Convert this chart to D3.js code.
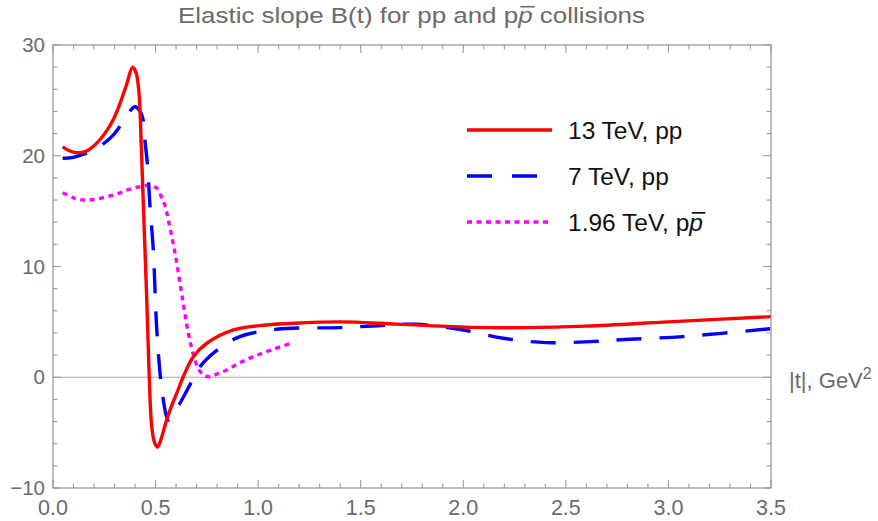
<!DOCTYPE html>
<html>
<head>
<meta charset="utf-8">
<script src="https://cdn.jsdelivr.net/npm/d3@7"></script>
<style>
  html, body { margin: 0; padding: 0; background: #fff; }
  svg { display: block; font-family: "Liberation Sans", Arial, sans-serif; }
</style>
</head>
<body>
<svg id="chart" width="878" height="521"></svg>
<script>
// ---- data ----
const t13 = [0.047, 0.08, 0.115, 0.16, 0.2, 0.26, 0.3, 0.33, 0.36, 0.388, 0.405, 0.42, 0.43, 0.44, 0.457, 0.469, 0.481, 0.495, 0.51, 0.53, 0.553, 0.58, 0.603, 0.635, 0.684, 0.75, 0.88, 1.04, 1.2, 1.4, 1.675, 2.05, 2.3, 2.6, 3.0, 3.5];
const b13 = [20.8, 20.45, 20.28, 20.4, 20.9, 22.2, 23.5, 24.9, 26.5, 28.0, 27.5, 25.5, 21.0, 15.8, 7.0, 0.05, -4.4, -5.9, -6.3, -5.4, -3.9, -2.5, -1.45, 0.05, 1.86, 3.07, 4.27, 4.72, 4.9, 5.0, 4.8, 4.5, 4.48, 4.62, 5.0, 5.47];

const t7 = [0.047, 0.1, 0.156, 0.2, 0.245, 0.29, 0.323, 0.35, 0.375, 0.40, 0.421, 0.44, 0.448, 0.46, 0.473, 0.489, 0.505, 0.525, 0.538, 0.55, 0.562, 0.59, 0.619, 0.676, 0.717, 0.806, 0.911, 1.09, 1.4, 1.56, 1.77, 1.98, 2.195, 2.405, 2.62, 2.81, 3.07, 3.5];
const b7 = [19.77, 19.86, 20.2, 20.55, 21.07, 21.8, 22.57, 23.3, 24.04, 24.43, 24.1, 23.2, 21.4, 19.3, 15.4, 11.5, 4.57, -0.24, -2.05, -3.3, -3.86, -3.3, -2.35, -0.4, 0.96, 2.53, 3.67, 4.33, 4.48, 4.63, 4.78, 4.33, 3.52, 3.13, 3.22, 3.43, 3.67, 4.39];

const t196 = [0.047, 0.1, 0.148, 0.2, 0.262, 0.32, 0.359, 0.4, 0.44, 0.473, 0.5, 0.514, 0.53, 0.546, 0.562, 0.595, 0.627, 0.66, 0.692, 0.717, 0.74, 0.765, 0.8, 0.847, 0.9, 0.976, 1.07, 1.171];
const b196 = [16.67, 16.2, 16.0, 16.05, 16.3, 16.6, 16.9, 17.1, 17.27, 17.33, 17.15, 16.9, 16.2, 15.5, 14.2, 11.2, 7.58, 3.97, 1.56, 0.51, 0.15, 0.05, 0.3, 0.66, 1.2, 1.86, 2.5, 3.13];

const seriesNames = ["13 TeV, pp", "7 TeV, pp", "1.96 TeV, p"];
const xTickLabels = [0, 0.5, 1.0, 1.5, 2.0, 2.5, 3.0, 3.5];
const yTickLabels = [-10, 0, 10, 20, 30];

// ---- layout ----
const W = 878, H = 521;
const margin = {left: 53, right: 107, top: 45, bottom: 33};
const pw = W - margin.left - margin.right;
const ph = H - margin.top - margin.bottom;

const svg = d3.select("#chart");
const x = d3.scaleLinear().domain([0, 3.5]).range([margin.left, margin.left + pw]);
const y = d3.scaleLinear().domain([-10, 30]).range([margin.top + ph, margin.top]);

const frameCol = "#9a9a9a";
const textCol = "#6b6b6b";

// clip
svg.append("defs").append("clipPath").attr("id", "clip")
  .append("rect").attr("x", margin.left).attr("y", margin.top).attr("width", pw).attr("height", ph);

// zero axis line
svg.append("line")
  .attr("x1", x(0)).attr("x2", x(3.5)).attr("y1", y(0)).attr("y2", y(0))
  .attr("stroke", "#a8a8a8").attr("stroke-width", 1.2);

// curves
const line = d3.line().x(d => x(d[0])).y(d => y(d[1])).curve(d3.curveCatmullRom.alpha(0.5));
const series = [
  {t: t13, b: b13, color: "#ff0000", dash: null},
  {t: t7, b: b7, color: "#0000ff", dash: "25,18"},
  {t: t196, b: b196, color: "#ff00ff", dash: "5,4.5"}
];
const g = svg.append("g").attr("clip-path", "url(#clip)");
series.slice().reverse().forEach(s => {
  g.append("path")
    .datum(s.t.map((tv, i) => [tv, s.b[i]]))
    .attr("d", line)
    .attr("fill", "none")
    .attr("stroke", s.color)
    .attr("stroke-width", 3.4)
    .attr("stroke-dasharray", s.dash)
    .attr("stroke-linejoin", "round");
});

// frame
svg.append("rect")
  .attr("x", margin.left).attr("y", margin.top).attr("width", pw).attr("height", ph)
  .attr("fill", "none").attr("stroke", frameCol).attr("stroke-width", 1.3);

// ticks (inward, mirrored)
const major = 8, minor = 4.5;
const xMinor = d3.range(0, 3.5001, 0.1);
xMinor.forEach(v => {
  const isMajor = Math.abs(v * 2 - Math.round(v * 2)) < 1e-6;
  const len = isMajor ? major : minor;
  svg.append("line").attr("x1", x(v)).attr("x2", x(v))
    .attr("y1", y(-10)).attr("y2", y(-10) - len)
    .attr("stroke", frameCol).attr("stroke-width", 1.1);
  svg.append("line").attr("x1", x(v)).attr("x2", x(v))
    .attr("y1", y(30)).attr("y2", y(30) + len)
    .attr("stroke", frameCol).attr("stroke-width", 1.1);
});
const yMinor = d3.range(-10, 30.001, 2);
yMinor.forEach(v => {
  const isMajor = v % 10 === 0;
  const len = isMajor ? major : minor;
  svg.append("line").attr("x1", x(0)).attr("x2", x(0) + len)
    .attr("y1", y(v)).attr("y2", y(v))
    .attr("stroke", frameCol).attr("stroke-width", 1.1);
  svg.append("line").attr("x1", x(3.5)).attr("x2", x(3.5) - len)
    .attr("y1", y(v)).attr("y2", y(v))
    .attr("stroke", frameCol).attr("stroke-width", 1.1);
});

// tick labels
svg.append("g").selectAll("text").data(xTickLabels).join("text")
  .attr("x", d => x(d)).attr("y", 515)
  .attr("text-anchor", "middle")
  .attr("font-size", 21.5).attr("fill", textCol)
  .text(d => d3.format(".1f")(d));

svg.append("g").selectAll("text").data(yTickLabels).join("text")
  .attr("x", 45).attr("y", d => y(d) + 7)
  .attr("text-anchor", "end")
  .attr("font-size", 20.5).attr("fill", textCol)
  .text(d => d < 0 ? "\u2212" + Math.abs(d) : String(d));

// axis label
const al = svg.append("text").attr("x", 789).attr("y", 388)
  .attr("font-size", 22).attr("fill", textCol);
al.append("tspan").text("|t|, GeV");
al.append("tspan").attr("dy", -9).attr("font-size", 16).text("2");

// helper: draw an overline above character index idx of a text node
function overline(textSel, idx, fontSize, color) {
  const node = textSel.node();
  const s = node.getStartPositionOfChar(idx);
  const e = node.getEndPositionOfChar(idx);
  const yy = s.y - fontSize * 0.74;
  const slant = fontSize * 0.1;
  svg.append("line")
    .attr("x1", s.x + slant).attr("x2", e.x + slant)
    .attr("y1", yy).attr("y2", yy)
    .attr("stroke", color).attr("stroke-width", fontSize * 0.07);
}

// title
const titleStr1 = "Elastic slope B(t) for pp and p";
const title = svg.append("text")
  .attr("x", 411.5).attr("y", 23)
  .attr("text-anchor", "middle")
  .attr("font-size", 22).attr("fill", textCol)
  .attr("textLength", 467).attr("lengthAdjust", "spacingAndGlyphs");
title.append("tspan").text(titleStr1);
title.append("tspan").attr("font-style", "italic").text("p");
title.append("tspan").text(" collisions");
overline(title, titleStr1.length, 22, textCol);

// legend
const legY = [130, 176, 222];
const legLen = [85, 70, 82];
series.forEach((s, i) => {
  svg.append("line")
    .attr("x1", 467).attr("x2", 467 + legLen[i])
    .attr("y1", legY[i]).attr("y2", legY[i])
    .attr("stroke", s.color).attr("stroke-width", 3.4)
    .attr("stroke-dasharray", i === 1 ? "25,20" : s.dash);
  const tx = svg.append("text").attr("x", 568).attr("y", legY[i] + 9)
    .attr("font-size", 24.5).attr("fill", "#111");
  tx.append("tspan").text(seriesNames[i]);
  if (i === 2) {
    tx.append("tspan").attr("font-style", "italic").text("p");
    overline(tx, seriesNames[i].length, 24.5, "#111");
  }
});
</script>
</body>
</html>
